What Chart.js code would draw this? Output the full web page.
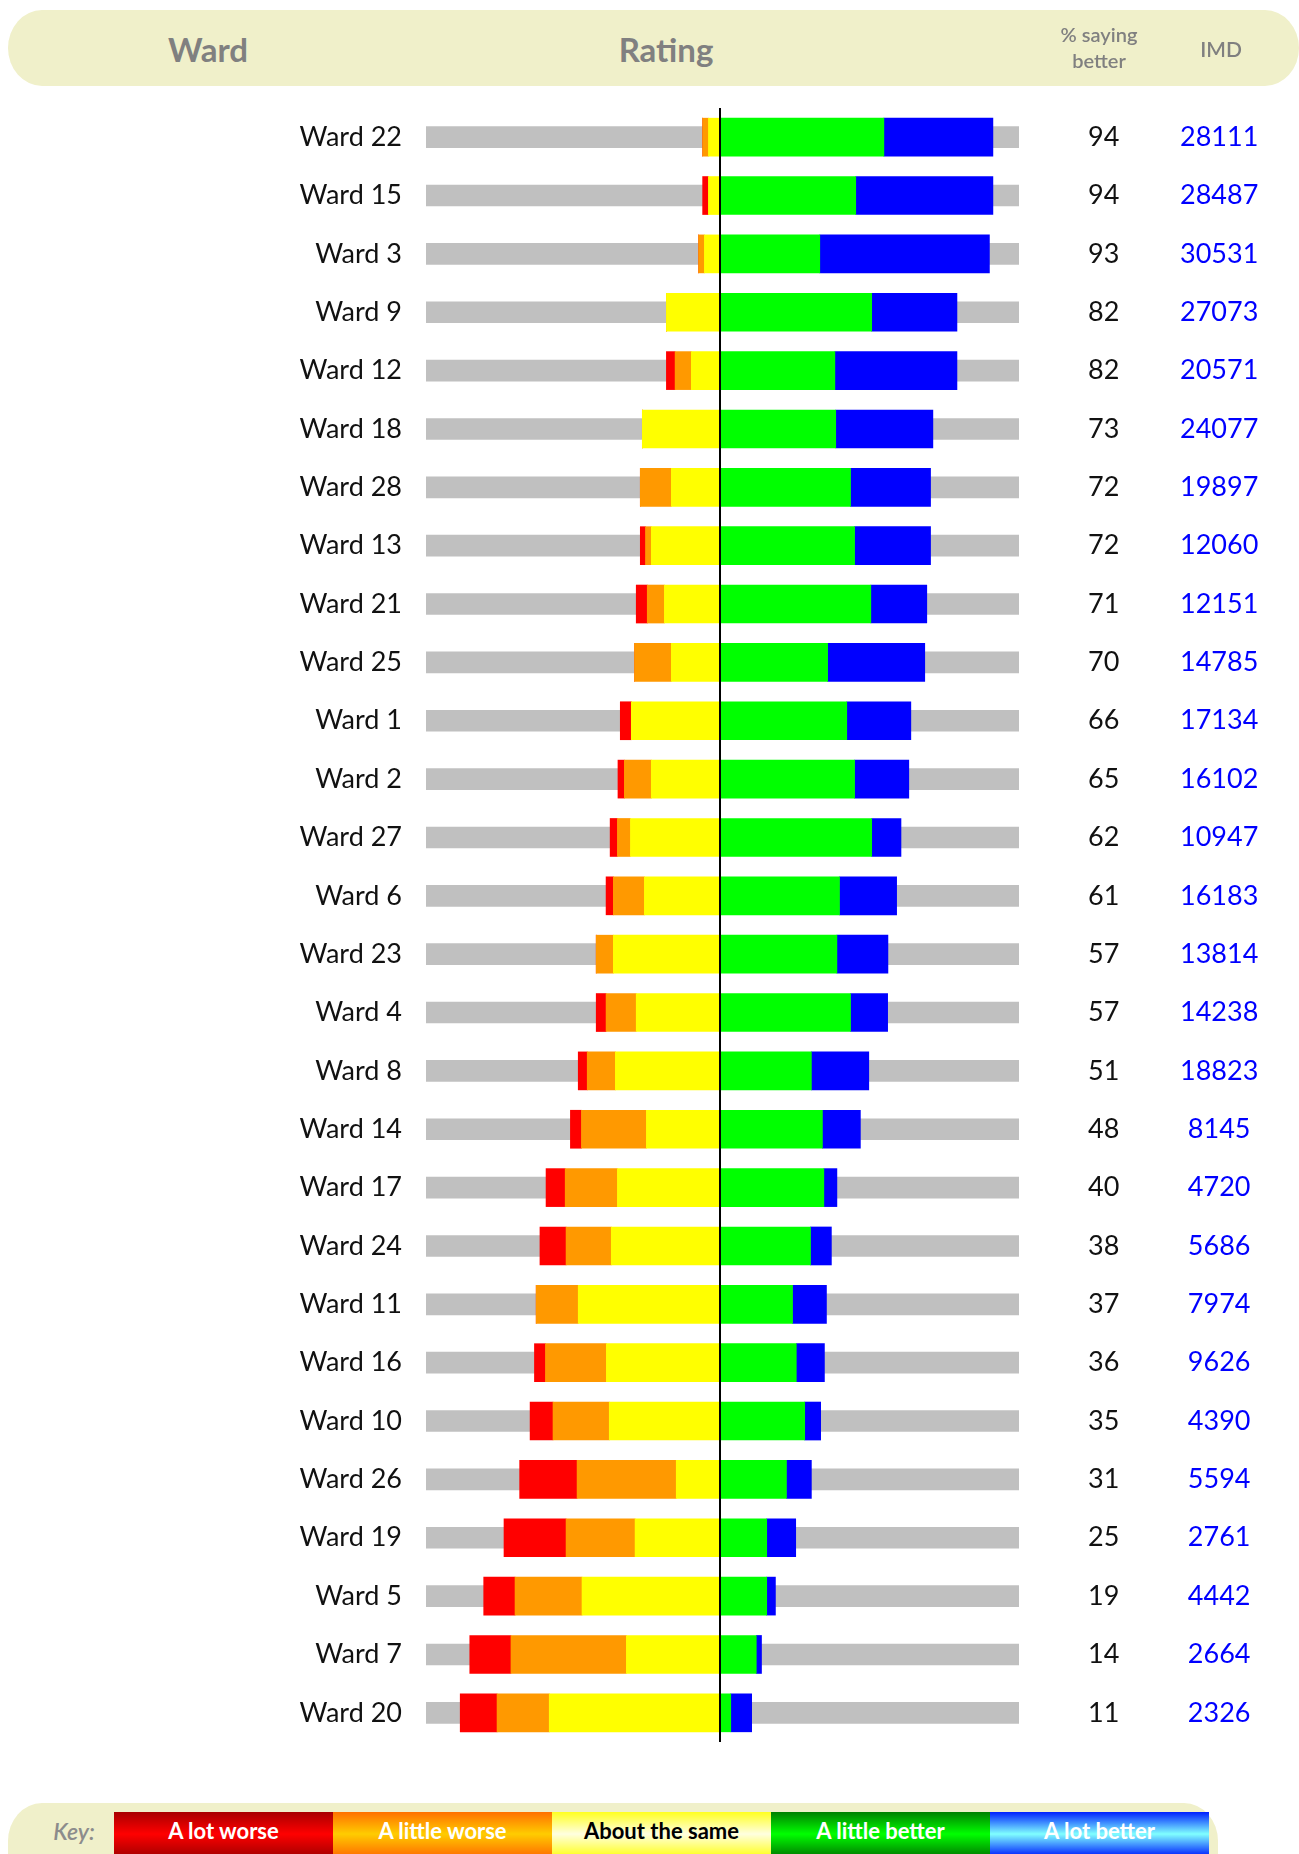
<!DOCTYPE html>
<html>
<head>
<meta charset="utf-8">
<script src="https://cdn.jsdelivr.net/npm/chart.js@4.4.1/dist/chart.umd.min.js"></script>
<style>
  body { margin: 0; overflow: hidden; background: #fff; font-family: Lato, "Open Sans", sans-serif; }
  #wrap { position: relative; width: 1299px; height: 1854px; overflow: hidden; }
  #chart { position: absolute; left: 0; top: 0; }
  .band { position: absolute; background: #f0f0ca; border-radius: 34px / 38px; }
  .hd { position: absolute; transform: translate(-50%, -50%); color: #808080; font-weight: 700; white-space: nowrap; text-align: center; }
  .key { position: absolute; top: 1812px; width: 219px; height: 44px; line-height: 37px; text-align: center; color: #fff; font-size: 22px; font-weight: 700; }
</style>
</head>
<body>
<div id="wrap">
  <canvas id="chart" width="1299" height="1854"></canvas>

  <div class="band" style="left:8px; top:10px; width:1291px; height:76px;"></div>
  <div class="hd" style="left:208px; top:49px; font-size:33px;">Ward</div>
  <div class="hd" style="left:666px; top:49px; font-size:33px;">Rating</div>
  <div class="hd" style="left:1099px; top:47px; font-size:20px; line-height:26px; font-weight:600;">% saying<br>better</div>
  <div class="hd" style="left:1221px; top:48px; font-size:21px; font-weight:600;">IMD</div>

  <div class="band" style="left:8px; top:1803px; width:1210px; height:90px;"></div>
  <div class="hd" style="left:74px; top:1831px; font-size:23px; font-style:italic; font-weight:600; color:#8c8c8c;">Key:</div>
  <div class="key" style="left:114px; background:linear-gradient(#a80000, #ff0000 50%, #a80000);">A lot worse</div>
  <div class="key" style="left:333px; background:linear-gradient(#ff7000, #ffcc00 50%, #ff7000);">A little worse</div>
  <div class="key" style="left:552px; color:#000; background:linear-gradient(#ffff20, #ffffe0 50%, #ffff20);">About the same</div>
  <div class="key" style="left:771px; background:linear-gradient(#008000, #00ff00 50%, #008000);">A little better</div>
  <div class="key" style="left:990px; background:linear-gradient(#0020ff, #80ffff 50%, #0020ff);">A lot better</div>
</div>

<script>
const wards = ['Ward 22', 'Ward 15', 'Ward 3', 'Ward 9', 'Ward 12', 'Ward 18', 'Ward 28',
  'Ward 13', 'Ward 21', 'Ward 25', 'Ward 1', 'Ward 2', 'Ward 27', 'Ward 6', 'Ward 23',
  'Ward 4', 'Ward 8', 'Ward 14', 'Ward 17', 'Ward 24', 'Ward 11', 'Ward 16', 'Ward 10',
  'Ward 26', 'Ward 19', 'Ward 5', 'Ward 7', 'Ward 20'];

const pctBetter = [94, 94, 93, 82, 82, 73, 72, 72, 71, 70, 66, 65, 62, 61, 57, 57, 51, 48,
  40, 38, 37, 36, 35, 31, 25, 19, 14, 11];

const imd = [28111, 28487, 30531, 27073, 20571, 24077, 19897, 12060, 12151, 14785, 17134,
  16102, 10947, 16183, 13814, 14238, 18823, 8145, 4720, 5686, 7974, 9626, 4390, 5594,
  2761, 4442, 2664, 2326];

// percentages of respondents
const aLotWorse = [0, 2.0, 0, 0, 3.0, 0, 0, 1.8, 3.8, 0, 3.8, 2.2, 2.5, 2.5, 0, 3.4, 3.1,
  3.8, 6.6, 9.0, 0, 3.8, 7.9, 19.8, 21.4, 10.8, 14.2, 12.7];
const aLittleWorse = [2.0, 0, 2.0, 0, 5.6, 0, 10.7, 2.0, 5.9, 12.7, 0, 9.3, 4.5, 10.7, 5.9,
  10.4, 9.7, 22.4, 18.0, 15.6, 14.5, 21.0, 19.4, 34.2, 23.8, 23.1, 39.8, 18.0];
const aboutSame = [4.1, 4.1, 5.5, 18.6, 10.0, 26.9, 16.9, 23.8, 19.3, 16.9, 30.7, 23.8,
  31.0, 26.2, 36.9, 29.0, 36.2, 25.5, 35.5, 37.6, 49.0, 39.3, 38.3, 15.2, 29.4, 47.7,
  32.4, 59.0];
const aLittleBetter = [56.4, 46.7, 34.3, 52.2, 39.5, 39.8, 44.9, 46.3, 51.9, 37.0, 43.6,
  46.3, 52.2, 41.1, 40.2, 44.9, 31.4, 35.2, 35.7, 31.1, 24.9, 26.2, 29.1, 22.8, 16.0,
  16.0, 12.4, 3.6];
const aLotBetter = [37.6, 47.3, 58.5, 29.4, 42.1, 33.5, 27.6, 26.2, 19.3, 33.5, 22.1,
  18.7, 10.1, 19.7, 17.6, 12.8, 19.8, 13.1, 4.5, 7.2, 11.7, 9.7, 5.5, 8.6, 10.0, 3.0,
  1.8, 7.2];

const xMin = -101.5;
const xMax = 103;

const neg = arr => arr.map(v => -v);

function seg(label, data, color) {
  return {
    label: label,
    data: data,
    backgroundColor: color,
    borderWidth: 0,
    stack: 'rating',
    barThickness: 38,
    order: 0
  };
}

const rowFont = { family: 'Lato', size: 27 };

new Chart(document.getElementById('chart'), {
  type: 'bar',
  data: {
    labels: wards,
    datasets: [
      // worse side stacks outwards from zero
      seg('About the same', neg(aboutSame), '#ffff00'),
      seg('A little worse', neg(aLittleWorse), '#ff9900'),
      seg('A lot worse', neg(aLotWorse), '#ff0000'),
      seg('A little better', aLittleBetter, '#00ff00'),
      seg('A lot better', aLotBetter, '#0000ff'),
      {
        label: 'track',
        data: wards.map(() => [xMin, xMax]),
        backgroundColor: '#c0c0c0',
        borderWidth: 0,
        stack: 'track',
        grouped: false,
        barThickness: 21,
        order: 1
      }
    ]
  },
  options: {
    indexAxis: 'y',
    responsive: false,
    animation: false,
    layout: { padding: { left: 0, right: 0, top: 108, bottom: 112 } },
    plugins: {
      legend: { display: false },
      tooltip: { enabled: false }
    },
    scales: {
      x: {
        stacked: true,
        min: xMin,
        max: xMax,
        afterBuildTicks: s => { s.ticks = [{ value: 0 }]; },
        afterFit: s => { s.height = 0; },
        ticks: { display: false },
        border: { display: false },
        grid: { color: '#000', lineWidth: 2, drawTicks: false, z: 1 }
      },
      y: {
        stacked: true,
        offset: true,
        afterFit: s => { s.width = 426; },
        grid: { display: false, drawTicks: false },
        border: { display: false },
        ticks: { padding: 24, color: '#111', font: rowFont }
      },
      yPct: {
        type: 'category',
        position: 'right',
        weight: 1,
        offset: true,
        labels: pctBetter.map(String),
        afterFit: s => { s.width = 130; },
        grid: { display: false, drawTicks: false },
        border: { display: false },
        ticks: { padding: 69, crossAlign: 'center', color: '#111', font: rowFont }
      },
      yImd: {
        type: 'category',
        position: 'right',
        weight: 2,
        offset: true,
        labels: imd.map(String),
        afterFit: s => { s.width = 150; },
        grid: { display: false, drawTicks: false },
        border: { display: false },
        ticks: { padding: 31, crossAlign: 'center', color: '#0000ff', font: rowFont }
      }
    }
  }
});
</script>
</body>
</html>
